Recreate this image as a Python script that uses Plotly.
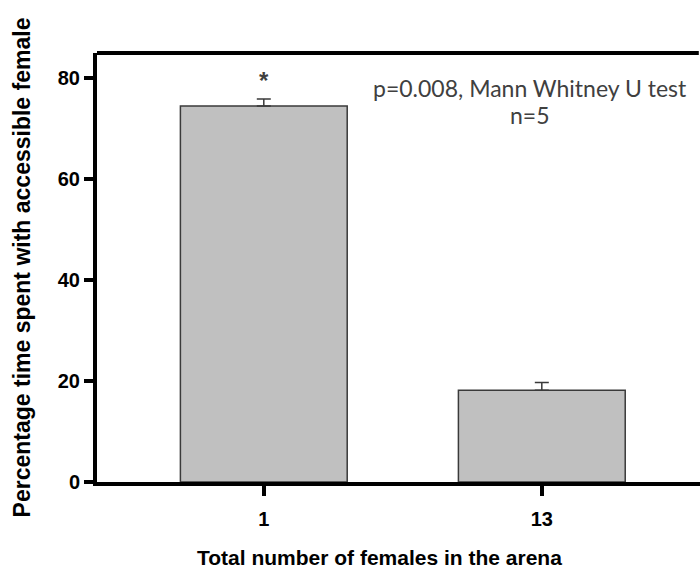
import plotly.graph_objects as go

categories = ["1", "13"]
values = [74.5, 18.2]
errors_up = [1.4, 1.5]
errors_down = [0, 0]
y_ticks = [0, 20, 40, 60, 80]
annot_line1 = "p=0.008, Mann Whitney U test"
annot_line2 = "n=5"
x_title = "Total number of females in the arena"
y_title = "Percentage time spent with accessible female"
star_text = "*"
star_y = 79.5

fig = go.Figure()
fig.add_trace(go.Bar(
    x=[0, 1], y=values, width=0.6,
    marker=dict(color="#c0c0c0", line=dict(color="#3a3a3a", width=1.5)),
    error_y=dict(type="data", symmetric=False, array=errors_up, arrayminus=errors_down,
                 color="#3a3a3a", thickness=1.5, width=7),
    showlegend=False,
))

fig.add_annotation(x=0, y=star_y, text=star_text, showarrow=False,
                   font=dict(family="Liberation Sans", size=24, color="#404040", weight="bold"),
                   xref="x", yref="y")
fig.add_annotation(x=0.957, y=78.0, text=annot_line1, showarrow=False, xref="x", yref="y",
                   yanchor="middle", font=dict(family="Lato", size=23, color="#404040"))
fig.add_annotation(x=0.957, y=72.7, text=annot_line2, showarrow=False, xref="x", yref="y",
                   yanchor="middle", font=dict(family="Lato", size=23, color="#404040"))
fig.add_annotation(x=0.469, y=-0.175, xref="paper", yref="paper", text=x_title,
                   showarrow=False, yanchor="middle",
                   font=dict(family="Liberation Sans", size=21, color="black", weight="bold"))

# top frame line
fig.add_shape(type="line", xref="paper", yref="paper", x0=0, x1=0.998, y0=1, y1=1,
              line=dict(color="black", width=4))

fig.update_layout(
    width=700, height=569,
    margin=dict(l=97, r=0, t=53, b=87),
    plot_bgcolor="white", paper_bgcolor="white",
    bargap=0.4,
)
fig.update_xaxes(
    range=[-0.6, 1.569], tickmode="array", tickvals=[0, 1], ticktext=categories,
    showline=True, linecolor="black", linewidth=4,
    ticks="outside", ticklen=10, tickwidth=4, tickcolor="black",
    showgrid=False, zeroline=False, ticklabelstandoff=6,
    tickfont=dict(family="Liberation Sans", size=20, color="black", weight="bold"),
)
fig.update_yaxes(
    range=[0, 85], tickmode="array", tickvals=y_ticks,
    showline=True, linecolor="black", linewidth=4,
    ticks="outside", ticklen=9, tickwidth=4, tickcolor="black",
    showgrid=False, zeroline=False,
    tickfont=dict(family="Liberation Sans", size=20, color="black", weight="bold"),
    title=dict(text=y_title, standoff=22,
               font=dict(family="Liberation Sans", size=23, color="black", weight="bold")),
)

fig.write_html("out.html")
